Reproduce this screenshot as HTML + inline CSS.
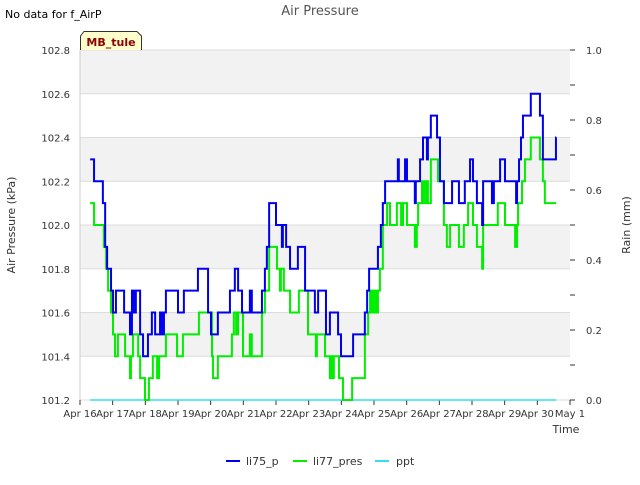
<!DOCTYPE html>
<html><head><meta charset="utf-8"><style>
body{margin:0;background:#fff;font-family:"Liberation Sans","DejaVu Sans",sans-serif;}
svg text{font-family:"DejaVu Sans","Liberation Sans",sans-serif;}
</style></head><body>
<svg id="c" width="640" height="480" xmlns="http://www.w3.org/2000/svg">
<rect width="640" height="480" fill="#fff"/>
<text x="5" y="18" font-size="11" fill="#000">No data for f_AirP</text>
<text x="320" y="15" font-size="13" fill="#555" text-anchor="middle">Air Pressure</text>
<g id="plot"></g>
</svg>
<script>
const xTickLabels=["Apr 16","Apr 17","Apr 18","Apr 19","Apr 20","Apr 21","Apr 22","Apr 23","Apr 24","Apr 25","Apr 26","Apr 27","Apr 28","Apr 29","Apr 30","May 1"];
const yLeftTicks=[101.2,101.4,101.6,101.8,102.0,102.2,102.4,102.6,102.8];
const yRightTicks=[0.0,0.2,0.4,0.6,0.8,1.0];
const bluDays=[0.31,0.43,0.70,0.77,0.83,0.95,1.01,1.10,1.35,1.53,1.59,1.65,1.71,1.84,1.93,2.08,2.20,2.30,2.45,2.51,2.57,2.63,3.00,3.18,3.61,3.92,4.01,4.22,4.59,4.74,4.84,4.96,5.20,5.26,5.57,5.66,5.72,5.79,6.00,6.18,6.21,6.31,6.43,6.67,6.89,7.19,7.29,7.53,7.65,7.90,7.99,8.36,8.72,8.79,8.85,9.12,9.21,9.27,9.34,9.73,9.76,9.95,10.01,10.25,10.28,10.41,10.50,10.62,10.65,10.74,10.93,11.02,11.14,11.39,11.60,11.78,11.94,12.03,12.15,12.31,12.34,12.61,12.67,12.86,13.01,13.35,13.38,13.44,13.50,13.56,13.80,14.08,14.17,14.57];
const bluVals=[102.3,102.2,102.1,101.9,101.8,101.7,101.6,101.7,101.6,101.5,101.7,101.6,101.7,101.5,101.4,101.5,101.6,101.5,101.6,101.5,101.6,101.7,101.6,101.7,101.8,101.6,101.5,101.6,101.7,101.8,101.7,101.6,101.7,101.6,101.7,101.8,101.9,102.1,102.0,101.9,102.0,101.9,101.8,101.9,101.7,101.6,101.7,101.5,101.6,101.5,101.4,101.5,101.6,101.7,101.8,101.9,102.0,102.1,102.2,102.3,102.2,102.3,102.2,102.1,102.2,102.3,102.4,102.3,102.4,102.5,102.4,102.2,102.1,102.2,102.1,102.2,102.3,102.2,102.1,102.0,102.2,102.1,102.2,102.3,102.2,102.1,102.2,102.3,102.4,102.5,102.6,102.5,102.3,102.4];
const grnDays=[0.31,0.43,0.73,0.80,0.86,0.95,1.01,1.07,1.16,1.38,1.53,1.56,1.62,1.78,1.84,1.99,2.11,2.23,2.36,2.42,2.63,2.97,3.15,3.64,4.04,4.07,4.22,4.65,4.71,4.78,4.84,4.99,5.20,5.26,5.57,5.66,5.79,6.03,6.12,6.15,6.24,6.43,6.70,6.98,7.22,7.25,7.50,7.65,7.68,7.74,7.77,7.93,8.05,8.33,8.72,8.82,8.88,8.94,9.00,9.06,9.12,9.18,9.27,9.40,9.49,9.70,9.83,9.89,10.01,10.25,10.31,10.35,10.47,10.53,10.59,10.65,10.74,10.96,11.14,11.23,11.33,11.60,11.75,11.88,12.03,12.15,12.31,12.34,12.79,13.01,13.32,13.38,13.41,13.53,13.62,13.80,14.08,14.17,14.23];
const grnVals=[102.1,102.0,101.9,101.8,101.7,101.6,101.5,101.4,101.5,101.4,101.3,101.4,101.5,101.4,101.3,101.2,101.3,101.4,101.3,101.4,101.5,101.4,101.5,101.6,101.4,101.3,101.4,101.5,101.6,101.5,101.6,101.4,101.5,101.4,101.6,101.7,101.9,101.8,101.7,101.8,101.7,101.6,101.7,101.5,101.4,101.5,101.4,101.3,101.4,101.3,101.4,101.3,101.2,101.3,101.5,101.6,101.7,101.6,101.7,101.6,101.7,101.8,102.0,102.1,102.0,102.1,102.0,102.1,102.0,101.9,102.0,102.1,102.2,102.1,102.2,102.1,102.3,102.2,102.0,101.9,102.0,101.9,102.0,102.1,102.0,101.9,101.8,102.0,102.1,102.0,101.9,102.0,102.1,102.2,102.3,102.4,102.3,102.2,102.1];
const endDay=14.58;
const pptDays=[0.31,14.58];
const pptVals=[0,0];

const NS="http://www.w3.org/2000/svg";
const L=80,R=570,T=50,B=400;
const xs=d=>L+d*(R-L)/15;
const yL=v=>B-(v-101.2)*(B-T)/1.6;
const yR=v=>B-v*(B-T);
const g=document.getElementById('plot');
function mk(t,a,p){const e=document.createElementNS(NS,t);for(const k in a)e.setAttribute(k,a[k]);(p||g).appendChild(e);return e;}
// bands
for(let i=0;i<yLeftTicks.length-1;i++){
 if(i%2===1){const b=mk('rect',{x:L,y:yL(yLeftTicks[i+1]),width:R-L,height:yL(yLeftTicks[i])-yL(yLeftTicks[i+1]),fill:'#f2f2f2'});
 
 }
}
yLeftTicks.forEach(v=>{
 const l=mk('line',{x1:L,x2:R,y1:yL(v),y2:yL(v),stroke:'#dcdcdc','stroke-width':1});
 
 
 const t=mk('text',{x:L-10,y:yL(v)+4,'font-size':10,'text-anchor':'end',fill:'#333'});
 t.textContent=v.toFixed(1);
 
 
});
mk('line',{x1:L,x2:L,y1:T,y2:B,stroke:'#ccc'});
yRightTicks.forEach(v=>{
 const t=mk('text',{x:R+16,y:yR(v)+4,'font-size':10,fill:'#333'});
 t.textContent=v.toFixed(1);
 
 
});
for(let i=0;i<=10;i++){mk('line',{x1:R,x2:R+5,y1:yR(i/10),y2:yR(i/10),stroke:'#333'});}
xTickLabels.forEach((s,i)=>{
 mk('line',{x1:xs(i),x2:xs(i),y1:B,y2:B+5,stroke:'#333'});
 const t=mk('text',{x:xs(i),y:B+17,'font-size':10,'text-anchor':'middle',fill:'#333'});
 t.textContent=s;
 
 
});
function step(days,vals,end,yf){let d='';for(let i=0;i<days.length;i++){const x=xs(days[i]),y=yf(vals[i]);d+=(i?'L'+x+','+yf(vals[i-1])+'L':'M')+x+','+y;}d+='L'+xs(end)+','+yf(vals[vals.length-1]);return d;}
const pp=mk('path',{d:step(pptDays,pptVals,endDay,yR),stroke:'#33ddee','stroke-width':1.5,fill:'none'});


const gp=mk('path',{d:step(grnDays,grnVals,endDay,yL),stroke:'#00ee00','stroke-width':2,fill:'none'});


const bp=mk('path',{d:step(bluDays,bluVals,endDay,yL),stroke:'#0000ee','stroke-width':2,fill:'none'});


</script>
<svg width="640" height="480" style="position:absolute;left:0;top:0" xmlns="http://www.w3.org/2000/svg">
<g>
<path d="M80.5,50 L80.5,36 L84,31.5 L137,31.5 L141.5,36 L141.5,50" fill="#ffffcc" stroke="#333"/>
<text x="111" y="46" font-size="11" font-weight="bold" fill="#8b0000" text-anchor="middle" font-family="DejaVu Sans,sans-serif">MB_tule</text>
</g>
<text x="15" y="225" font-size="11" fill="#333" text-anchor="middle" transform="rotate(-90 15 225)" font-family="DejaVu Sans,sans-serif">Air Pressure (kPa)</text>
<text x="630" y="225" font-size="11" fill="#333" text-anchor="middle" transform="rotate(-90 630 225)" font-family="DejaVu Sans,sans-serif">Rain (mm)</text>
<text x="566" y="433" font-size="11" fill="#333" text-anchor="middle" font-family="DejaVu Sans,sans-serif">Time</text>
<g font-size="11" fill="#333" font-family="DejaVu Sans,sans-serif">
<line x1="226" x2="240" y1="461" y2="461" stroke="#0000ee" stroke-width="2"/><text x="246" y="465">li75_p</text>
<line x1="293" x2="307" y1="461" y2="461" stroke="#00ee00" stroke-width="2"/><text x="313" y="465">li77_pres</text>
<line x1="375" x2="389" y1="461" y2="461" stroke="#33ddee" stroke-width="2"/><text x="396" y="465">ppt</text>
</g>
</svg>
</body></html>
